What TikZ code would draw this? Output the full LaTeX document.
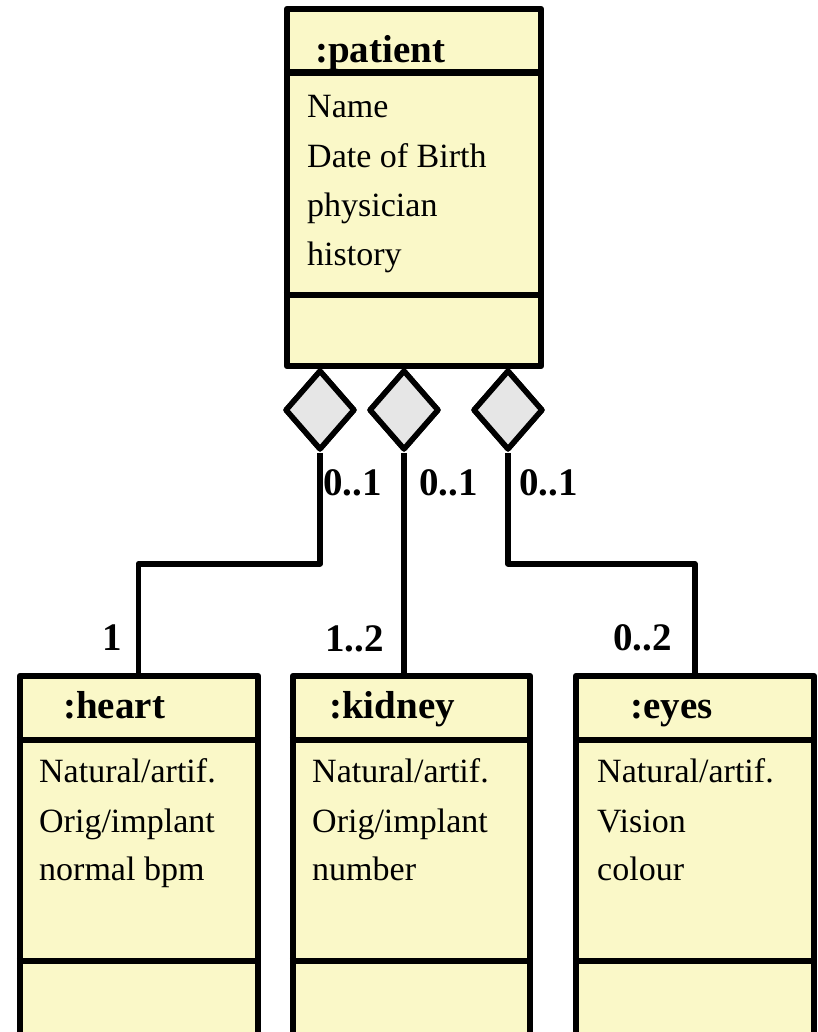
\documentclass[tikz,border=0pt]{standalone}
\usepackage{fontspec}
\setmainfont{Liberation Serif}
\usetikzlibrary{shapes.geometric}
\definecolor{classfill}{RGB}{250,248,200}
\definecolor{aggfill}{RGB}{230,230,230}
\begin{document}
\begin{tikzpicture}[x=1pt,y=-1pt,line join=round,
  classbox/.style={rectangle,draw,line width=6.5pt,fill=classfill,inner sep=0pt},
  divider/.style={line width=6.5pt},
  agg/.style={diamond,draw,line width=5.5pt,fill=aggfill,
    minimum width=70pt,minimum height=80pt,inner sep=0pt},
  link/.style={line width=5.5pt},
  title/.style={anchor=base west,inner sep=0pt,font=\fontsize{39}{39}\selectfont\bfseries},
  attr/.style={anchor=base west,inner sep=0pt,font=\fontsize{34}{34}\selectfont},
  mult/.style={anchor=base west,inner sep=0pt,font=\fontsize{39}{39}\selectfont\bfseries}]
\useasboundingbox (0,0) rectangle (818,1032);
\clip (0,0) rectangle (818,1032);

% aggregation diamonds under the patient class
\node[agg] (d1) at (320,410) {};
\node[agg] (d2) at (404,410) {};
\node[agg] (d3) at (508,410) {};

% class boxes (part classes run past the lower edge)
\node[classbox,minimum width=254pt,minimum height=357pt] (patient) at (414,187.5) {};
\node[classbox,minimum width=238pt,minimum height=384pt] (heart) at (139,868) {};
\node[classbox,minimum width=237pt,minimum height=384pt] (kidney) at (411.5,868) {};
\node[classbox,minimum width=238pt,minimum height=384pt] (eyes) at (695,868) {};

% connectors
\draw[link] (d1.south) -- ++(0,111) -| ([xshift=-0.7pt]heart.north);
\draw[link] (d2.south) -- (d2.south |- kidney.north);
\draw[link] (d3.south) -- ++(0,111) -| (eyes.north);

% compartment dividers
\foreach \c/\a/\b in {patient/67/289,heart/67/288,kidney/67/288,eyes/67/288}{
  \draw[divider] ([yshift=-\a pt]\c.north west) -- ([yshift=-\a pt]\c.north east);
  \draw[divider] ([yshift=-\b pt]\c.north west) -- ([yshift=-\b pt]\c.north east);
}
% redraw the diamonds above the patient border
\node[agg] at (d1) {};
\node[agg] at (d2) {};
\node[agg] at (d3) {};

% patient
\node[title] (pt) at (315,63) {:patient};
\node[attr] (pa1) at (307,118) {Name};
\node[attr] (pa2) at (307,168) {Date of Birth};
\node[attr] (pa3) at (307,217) {physician};
\node[attr] (pa4) at (307,265) {history};

% heart
\node[title] (ht) at (63,718) {:heart};
\node[attr] (ha1) at (39,782) {Natural/artif.};
\node[attr] (ha2) at (39,832) {Orig/implant};
\node[attr] (ha3) at (39,880) {normal bpm};

% kidney
\node[title] (kt) at (329,718) {:kidney};
\node[attr] (ka1) at (312,782) {Natural/artif.};
\node[attr] (ka2) at (312,832) {Orig/implant};
\node[attr] (ka3) at (312,880) {number};

% eyes
\node[title] (et) at (630,718) {:eyes};
\node[attr] (ea1) at (597,782) {Natural/artif.};
\node[attr] (ea2) at (597,832) {Vision};
\node[attr] (ea3) at (597,880) {colour};

% multiplicities
\node[mult] (m1) at (323,495) {0..1};
\node[mult] (m2) at (419,495) {0..1};
\node[mult] (m3) at (519,495) {0..1};
\node[mult] (m4) at (102,650) {1};
\node[mult] (m5) at (325,651) {1..2};
\node[mult] (m6) at (613,650) {0..2};
\end{tikzpicture}
\end{document}
